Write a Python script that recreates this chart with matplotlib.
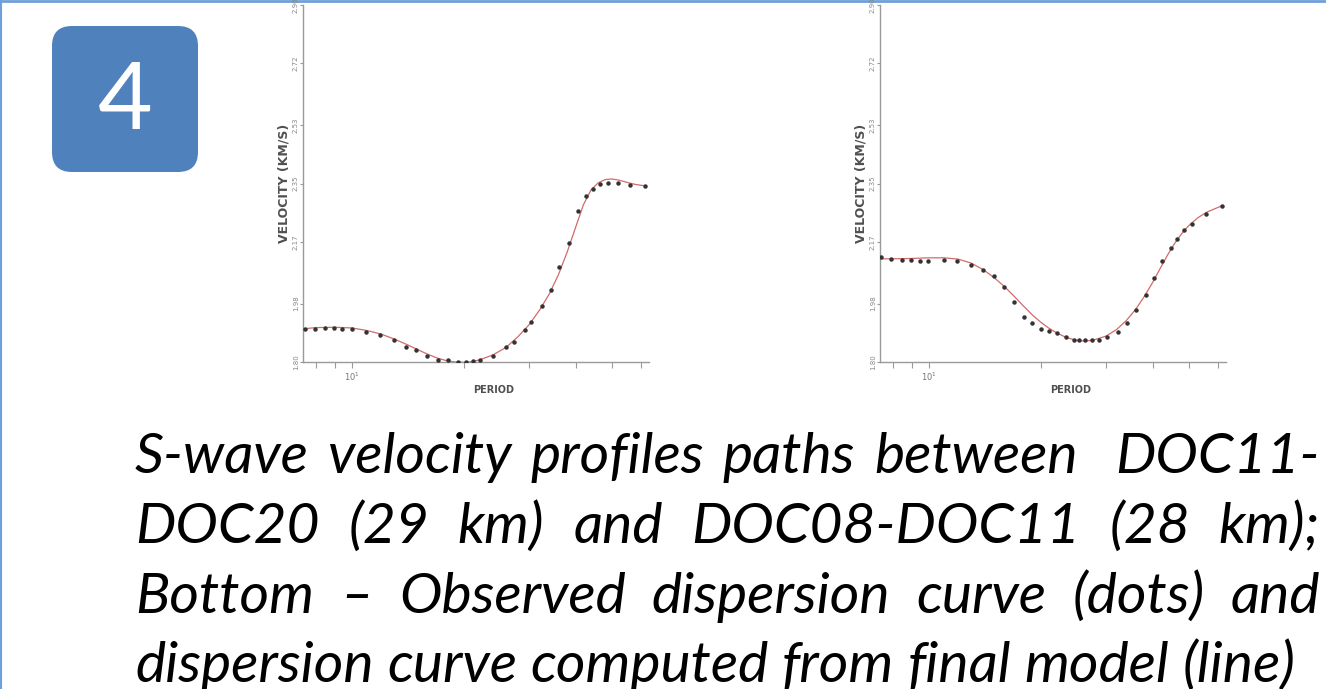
import numpy as np
import matplotlib.pyplot as plt
from matplotlib.patches import FancyBboxPatch
from matplotlib.ticker import FixedLocator, NullLocator, FixedFormatter

# observed dispersion (dots) and model curve (line), left panel: DOC11-DOC20
obs1_per = [7.47, 7.95, 8.46, 8.95, 9.44, 10.0, 10.9, 11.9, 13.0, 14.0, 14.9, 15.9,
            17.1, 18.2, 19.3, 20.3, 21.2, 22.1, 24.0, 26.0, 27.4, 29.2, 30.4, 32.4,
            34.4, 36.2, 38.4, 40.6, 42.7, 44.5, 46.4, 48.9, 52.0, 55.9, 61.3]
obs1_vel = [1.901, 1.903, 1.905, 1.905, 1.903, 1.901, 1.893, 1.883, 1.867, 1.846, 1.836, 1.820,
            1.807, 1.805, 1.800, 1.800, 1.803, 1.805, 1.818, 1.846, 1.862, 1.900, 1.924, 1.973,
            2.022, 2.094, 2.167, 2.265, 2.311, 2.334, 2.348, 2.353, 2.353, 2.344, 2.342]
mod1_per = [7.4, 8, 9, 10, 11, 12, 13, 14, 15, 16, 17, 18, 19, 20, 21, 22, 24, 26, 28, 30,
            32, 34, 36, 38, 40, 42, 44, 46, 48, 50, 52, 54, 56, 58, 61.3]
mod1_vel = [1.902, 1.906, 1.907, 1.905, 1.897, 1.886, 1.871, 1.855, 1.839, 1.824, 1.812, 1.804,
            1.800, 1.799, 1.801, 1.806, 1.822, 1.845, 1.878, 1.915, 1.960, 2.010, 2.070, 2.140,
            2.215, 2.285, 2.330, 2.352, 2.362, 2.364, 2.361, 2.356, 2.351, 2.347, 2.343]

# right panel: DOC08-DOC11
obs2_per = [7.43, 7.93, 8.50, 8.95, 9.48, 9.96, 11.0, 11.9, 13.0, 14.0, 15.0, 15.9, 17.0,
            18.0, 19.0, 20.0, 21.1, 22.2, 23.4, 24.6, 25.4, 26.4, 27.5, 28.7, 30.2, 32.2,
            34.2, 36.2, 38.3, 40.3, 42.5, 44.7, 46.6, 48.6, 51.2, 55.5, 61.6]
obs2_vel = [2.123, 2.117, 2.115, 2.113, 2.112, 2.112, 2.115, 2.110, 2.100, 2.084, 2.065, 2.030, 1.986,
            1.939, 1.919, 1.903, 1.895, 1.888, 1.877, 1.869, 1.867, 1.867, 1.867, 1.869, 1.877, 1.893,
            1.921, 1.960, 2.007, 2.058, 2.110, 2.151, 2.179, 2.208, 2.224, 2.255, 2.280]
mod2_per = [7.4, 8, 9, 10, 11, 12, 13, 14, 15, 16, 17, 18, 19, 20, 21, 22, 23, 24, 25, 26, 27, 28,
            30, 32, 34, 36, 38, 40, 42, 44, 46, 48, 50, 53, 56, 61.6]
mod2_vel = [2.118, 2.118, 2.119, 2.121, 2.121, 2.117, 2.105, 2.085, 2.060, 2.032, 2.002, 1.972,
            1.945, 1.923, 1.905, 1.891, 1.880, 1.872, 1.867, 1.865, 1.866, 1.869, 1.880, 1.900,
            1.928, 1.962, 2.002, 2.045, 2.090, 2.132, 2.168, 2.197, 2.220, 2.245, 2.262, 2.282]

yticks = [1.80, 1.98, 2.17, 2.35, 2.53, 2.72, 2.90]
ytick_labels = ['1.80', '1.98', '2.17', '2.35', '2.53', '2.72', '2.90']
xticks = [8, 9, 10, 20, 30, 40, 50, 60]
xtick_labels = ['', '', r'$10^1$', '', '', '', '', '']

caption = ['S-wave velocity profiles paths between  DOC11-',
           'DOC20 (29 km) and DOC08-DOC11 (28 km);',
           'Bottom \u2013 Observed dispersion curve (dots) and',
           'dispersion curve computed from final model (line)']

W, H = 1326, 689
fig = plt.figure(figsize=(13.26, 6.89), dpi=100)
bg = fig.add_axes([0, 0, 1, 1])
bg.set_xlim(0, W)
bg.set_ylim(H, 0)
bg.axis('off')

# slide frame
bg.plot([0, W], [1, 1], color='#6e9fdc', lw=2)
bg.plot([0.8, 0.8], [0, H], color='#6e9fdc', lw=1.5)

# number badge
bg.add_patch(FancyBboxPatch((72, 46), 106, 106, boxstyle='round,pad=20',
                            fc='#4f81bd', ec='none'))
bg.text(125, 129, '4', color='white', fontsize=68, ha='center', va='baseline',
        family='Lato')


def panel(rect, op, ov, mp, mv):
    ax = fig.add_axes(rect)
    ax.plot(mp, mv, color='#d46a6a', lw=0.9, zorder=2)
    ax.plot(op, ov, 'o', color='#333333', ms=2.2, zorder=3)
    ax.set_xscale('log')
    ax.set_xlim(7.4, 63)
    ax.set_ylim(1.80, 2.90)
    ax.xaxis.set_major_locator(FixedLocator(xticks))
    ax.xaxis.set_major_formatter(FixedFormatter(xtick_labels))
    ax.xaxis.set_minor_locator(NullLocator())
    ax.set_yticks(yticks)
    ax.set_yticklabels(ytick_labels)
    for s in ['top', 'right']:
        ax.spines[s].set_visible(False)
    for s in ['left', 'bottom']:
        ax.spines[s].set_color('#9a9a9a')
        ax.spines[s].set_linewidth(1.0)
    ax.tick_params(axis='x', length=4, width=0.8, color='#9a9a9a', labelsize=6,
                   labelcolor='#777777', pad=2)
    ax.tick_params(axis='y', length=2, width=0.8, color='#9a9a9a', labelsize=5,
                   labelcolor='#888888', labelrotation=90, pad=1)
    for lab in ax.get_yticklabels():
        lab.set_va('center')
    ax.set_ylabel('VELOCITY (KM/S)', fontsize=9, fontweight='bold', color='#505050',
                  labelpad=2)
    ax.set_xlabel('PERIOD', fontsize=7, fontweight='bold', color='#505050')
    ax.xaxis.set_label_coords(0.55, -0.065)
    ax.patch.set_alpha(0)
    return ax


bottom = (H - 362) / H
height = (362 - 5) / H
panel([303 / W, bottom, 346 / W, height], obs1_per, obs1_vel, mod1_per, mod1_vel)
panel([880 / W, bottom, 346 / W, height], obs2_per, obs2_vel, mod2_per, mod2_vel)

# justified caption
cap_fs = 41
cap_left, cap_right = 135, 1320
cap_base = [473, 543, 613, 682]
fig.canvas.draw()
r = fig.canvas.get_renderer()
probe1 = bg.text(0, 0, 'x x', fontsize=cap_fs, style='italic', family='Lato')
probe2 = bg.text(0, 0, 'xx', fontsize=cap_fs, style='italic', family='Lato')
space_w = probe1.get_window_extent(r).width - probe2.get_window_extent(r).width
probe1.remove()
probe2.remove()
for i, line in enumerate(caption):
    words = line.split(' ')
    items = [bg.text(0, cap_base[i], w, fontsize=cap_fs, style='italic', family='Lato',
                     va='baseline', ha='left', color='black') for w in words]
    widths = [t.get_window_extent(r).width if w else 0 for t, w in zip(items, words)]
    if i < len(caption) - 1:
        gap = (cap_right - cap_left - sum(widths)) / (len(words) - 1)
    else:
        gap = space_w
    x = cap_left
    for t, w in zip(items, widths):
        t.set_x(x)
        x += w + gap

fig.savefig('out.png', dpi=100)
